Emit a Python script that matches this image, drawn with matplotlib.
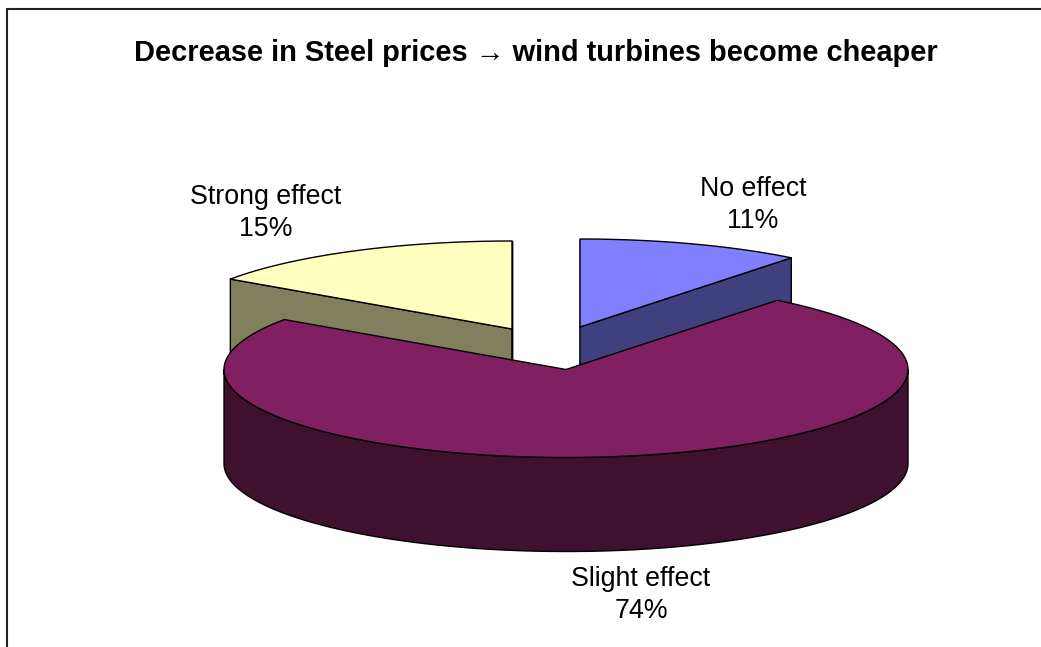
import numpy as np
import matplotlib
matplotlib.use('Agg')
import matplotlib.pyplot as plt
from matplotlib.patches import Polygon

plt.rcParams['font.family'] = ['Liberation Sans', 'DejaVu Sans']

title = 'Decrease in Steel prices \u2192 wind turbines become cheaper'
categories = ['No effect', 'Slight effect', 'Strong effect']
shares = [10.6, 74.0, 15.4]
top_colors = ['#8080FF', '#802060', '#FFFFC0']
side_colors = ['#40407F', '#40102F', '#80805F']

W, H = 1041, 647
RX, RY = 342, 88      # ellipse radii, px
DEPTH = 94
# apex of each slice after the explode
centers = [(580, 327), (566, 369.5), (512, 329)]
label_pos = [(753, 205), (641, 595), (266, 213)]

fig = plt.figure(figsize=(W / 100, H / 100), dpi=100)
ax = fig.add_axes([0, 0, 1, 1])
ax.set_xlim(0, W)
ax.set_ylim(H, 0)
ax.axis('off')

# chart frame, cut off on the right and at the bottom
ax.plot([7, 7, W], [H, 9, 9], color='#202020', lw=1.5, solid_joinstyle='miter')


def rim(c, a0, a1):
    t = np.radians(np.linspace(a0, a1, 200))
    return np.column_stack([c[0] + RX * np.cos(t), c[1] - RY * np.sin(t)])


# start at 12 o'clock, clockwise
ends = 90 - np.cumsum(shares) * 3.6
starts = np.r_[90, ends[:-1]]

# back slices first, main one on top
for i in [2, 0, 1]:
    c = centers[i]
    a0, a1 = starts[i], ends[i]
    top = rim(c, a0, a1)
    down = np.array([0, DEPTH])
    apex = np.array(c, dtype=float)

    # cut faces, the main slice hides its own
    if i != 1:
        for edge in [top[0], top[-1]]:
            face = [apex, edge, edge + down, apex + down]
            ax.add_patch(Polygon(face, fc=side_colors[i], ec='black', lw=1.0, joinstyle='round'))

    # outer wall, only the part facing us
    lo, hi = sorted((a0, a1))
    t = np.arange(np.ceil(lo), np.floor(hi) + 1)
    t = t[np.sin(np.radians(t)) <= 0]
    if len(t):
        wall = rim(c, t[0], t[-1])
        ax.add_patch(Polygon(np.vstack([wall, (wall + down)[::-1]]),
                             fc=side_colors[i], ec='black', lw=1.0))

    ax.add_patch(Polygon(np.vstack([apex, top]), fc=top_colors[i], ec='black', lw=1.0, joinstyle='round'))

for i, name in enumerate(categories):
    ax.text(label_pos[i][0], label_pos[i][1], '%s\n%.0f%%' % (name, shares[i]),
            ha='center', va='center', fontsize=19.3, linespacing=1.32, color='black')

ax.text(536, 53, title, ha='center', va='center', fontsize=20.9, fontweight='bold', color='black')

fig.savefig('out.png', dpi=100)
